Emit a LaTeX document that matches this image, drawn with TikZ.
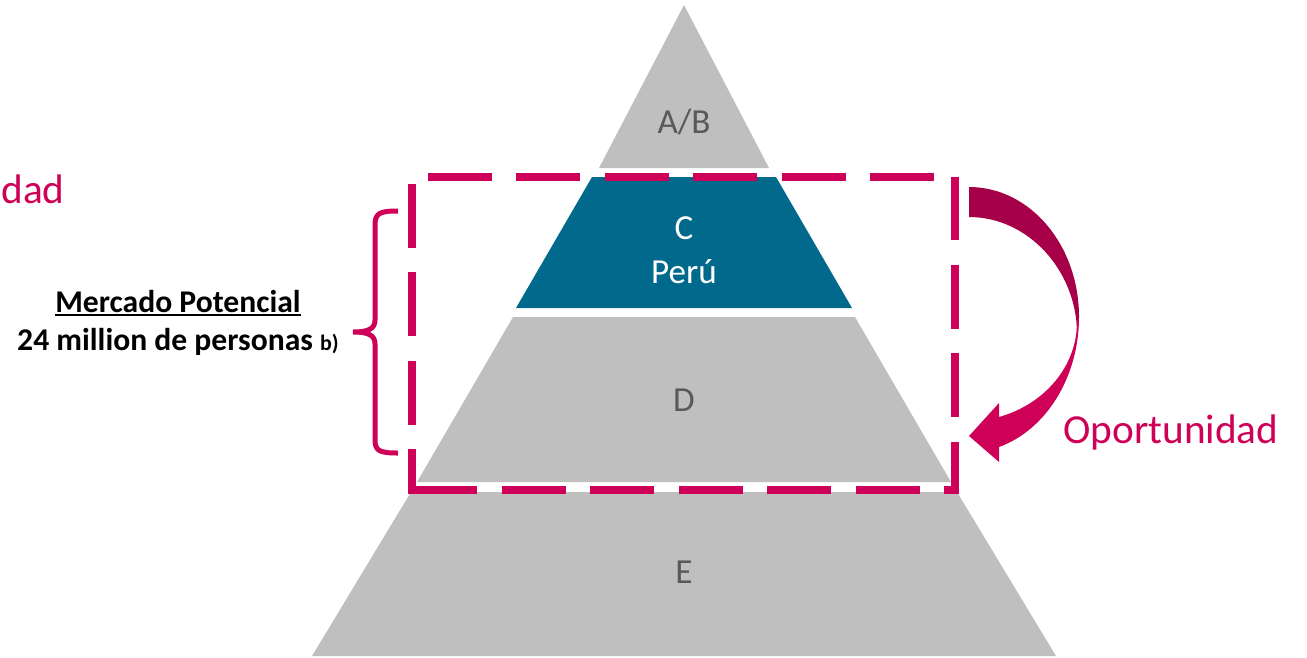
\documentclass[tikz,border=0pt]{standalone}
\usepackage{fontspec}
\setmainfont{Carlito}
\definecolor{pyrgray}{RGB}{191,191,191}
\definecolor{cteal}{RGB}{0,105,140}
\definecolor{oppmag}{RGB}{206,0,88}
\definecolor{oppdark}{RGB}{166,0,72}
\definecolor{lblgray}{RGB}{89,89,89}
\tikzset{
	level/.style={fill=pyrgray},
	level label/.style={anchor=base, inner sep=0pt, text=lblgray, font=\fontsize{20}{24}\selectfont},
	oppline/.style={draw=oppmag, line width=0.16cm, dash pattern=on 1.28cm off 0.49cm},
	opptext/.style={anchor=base west, inner sep=0pt, text=oppmag, font=\fontsize{23.5}{28}\selectfont},
	market/.style={anchor=base, inner sep=0pt, font=\fontsize{18}{22}\selectfont\bfseries}
}

\begin{document}
\begin{tikzpicture}[x=0.02cm, y=-0.02cm]
\useasboundingbox (0,0) rectangle (1307,657);

\fill[level] (684,5) -- (769,168) -- (599,168) -- cycle;
\fill[cteal] (592,177) -- (776,177) -- (852,308) -- (516,308) -- cycle;
\fill[level] (513,317) -- (855,317) -- (951,482) -- (417,482) -- cycle;
\fill[level] (411,492) -- (957,492) -- (1056,656) -- (312,656) -- cycle;

\node[level label] (ab) at (684,133) {A/B};
\node[level label, text=white] (c) at (684,239) {C};
\node[level label, text=white] (peru) at (684,283) {Perú};
\node[level label] (d) at (684,411) {D};
\node[level label] (e) at (684,583) {E};

\coordinate (box tr) at (955,176.5);
\coordinate (box br) at (955,490);
\draw[oppline] (box tr) -- (box br);
\draw[oppline, dash phase=0.98cm] (959,490) -- (408,490);
\draw[oppline, dash phase=0.38cm] (412,494) -- (412,172.5);
\draw[oppline, dash phase=1.37cm] (408,176.5) -- (box tr);

\fill[oppdark] (969,187) .. controls (1030,187) and (1079,245) .. (1079,317)
  -- (1077,332) .. controls (1076,270) and (1028,217) .. (969,217) -- cycle;
\fill[oppmag] (1079,317) .. controls (1079,377) and (1046,430) .. (999,447)
  -- (999,462) -- (969,436) -- (999,403) -- (999,417)
  .. controls (1045,404) and (1077,366) .. (1077,322) -- cycle;

\draw[oppmag, line width=0.1cm] (398,211) .. controls (380,211) and (375,213) .. (375,225)
  -- (375,320) .. controls (375,329) and (368,332) .. (353,332)
  .. controls (368,332) and (375,335) .. (375,344)
  -- (375,440) .. controls (375,451) and (380,453) .. (398,453);

\node[opptext] (dad) at (1,203) {dad};
\node[opptext] (opp) at (1063,443) {Oportunidad};
\node[market] (mp) at (178,312) {Mercado Potencial};
\draw[line width=0.04cm] ([yshift=-0.06cm]mp.base west) -- ([yshift=-0.06cm]mp.base east);
\node[market] (mp2) at (178,350) {24 million de personas {\fontsize{12.5}{14}\selectfont b)}};
\end{tikzpicture}
\end{document}
